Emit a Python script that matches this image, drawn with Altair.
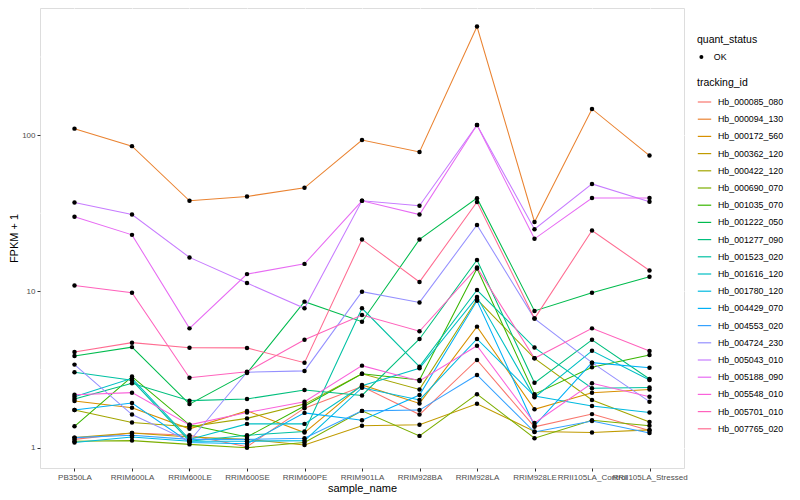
import altair as alt
import pandas as pd

samples = ["PB350LA", "RRIM600LA", "RRIM600LE", "RRIM600SE", "RRIM600PE", "RRIM901LA",
           "RRIM928BA", "RRIM928LA", "RRIM928LE", "RRII105LA_Control", "RRII105LA_Stressed"]

tracking_ids = ["Hb_000085_080", "Hb_000094_130", "Hb_000172_560", "Hb_000362_120", "Hb_000422_120",
                "Hb_000690_070", "Hb_001035_070", "Hb_001222_050", "Hb_001277_090", "Hb_001523_020",
                "Hb_001616_120", "Hb_001780_120", "Hb_004429_070", "Hb_004553_020", "Hb_004724_230",
                "Hb_005043_010", "Hb_005188_090", "Hb_005548_010", "Hb_005701_010", "Hb_007765_020"]

palette = ["#F8766D", "#EA8331", "#D89000", "#C09B00", "#A3A500", "#7CAE00", "#39B600", "#00BB4E",
           "#00BF7D", "#00C1A3", "#00BFC4", "#00BAE0", "#00B0F6", "#35A2FF", "#9590FF", "#C77CFF",
           "#E76BF3", "#FA62DB", "#FF62BC", "#FF6C91"]

# FPKM + 1 per sample
hb_000085_080 = [1.13, 1.24, 1.20, 1.015, 1.79, 2.46, 1.63, 3.64, 1.36, 1.64, 1.29]
hb_000094_130 = [110, 85, 38, 40.5, 46, 93, 78, 495, 27.8, 147, 74]
hb_000172_560 = [1.99, 1.80, 1.32, 1.72, 1.25, 2.52, 1.92, 5.95, 1.76, 2.25, 2.36]
hb_000362_120 = [1.16, 1.24, 1.17, 1.13, 1.04, 1.38, 1.40, 1.91, 1.27, 1.25, 1.30]
hb_000422_120 = [1.74, 1.45, 1.36, 1.54, 1.90, 2.97, 2.36, 8.9, 3.73, 2.02, 1.46]
hb_000690_070 = [1.10, 1.11, 1.05, 1.00, 1.08, 1.72, 1.19, 2.20, 1.15, 1.50, 1.38]
hb_001035_070 = [1.37, 2.85, 1.40, 1.17, 1.85, 2.97, 2.71, 14.0, 2.20, 3.27, 3.92]
hb_001222_050 = [3.86, 4.40, 1.90, 3.00, 8.6, 6.4, 21.5, 39.5, 7.5, 9.8, 12.4]
hb_001277_090 = [2.05, 2.58, 2.00, 2.05, 2.34, 2.16, 4.96, 15.9, 2.60, 4.90, 2.75]
hb_001523_020 = [3.04, 2.70, 1.10, 1.20, 1.27, 7.8, 3.30, 10.2, 4.37, 2.40, 2.43]
hb_001616_120 = [2.12, 2.78, 1.13, 1.42, 1.42, 2.49, 3.22, 9.2, 2.10, 4.17, 2.71]
hb_001780_120 = [1.08, 1.17, 1.10, 1.10, 1.11, 2.42, 2.02, 4.96, 2.14, 1.85, 1.68]
hb_004429_070 = [1.74, 1.93, 1.08, 1.06, 1.67, 1.50, 2.17, 8.7, 1.38, 3.50, 3.25]
hb_004553_020 = [1.16, 1.20, 1.13, 1.13, 1.15, 1.72, 1.74, 2.92, 1.26, 1.48, 1.24]
hb_004724_230 = [3.40, 1.63, 1.10, 3.04, 3.10, 9.96, 8.5, 26.6, 6.7, 3.50, 1.97]
hb_005043_010 = [37, 31, 16.5, 11.3, 7.8, 38, 35.3, 116, 25, 48.7, 37.5]
hb_005188_090 = [30, 23, 5.8, 12.9, 15, 38, 31, 116, 21.7, 39.6, 39.6]
hb_005548_010 = [2.18, 2.25, 1.40, 1.68, 1.97, 3.35, 2.67, 4.49, 1.44, 2.58, 2.12]
hb_005701_010 = [10.9, 9.8, 2.8, 3.06, 4.9, 7.06, 5.56, 14.2, 3.73, 5.8, 4.15]
hb_007765_020 = [4.1, 4.7, 4.36, 4.35, 3.5, 21.5, 11.5, 37.3, 6.7, 24.5, 13.6]

series = [hb_000085_080, hb_000094_130, hb_000172_560, hb_000362_120, hb_000422_120,
          hb_000690_070, hb_001035_070, hb_001222_050, hb_001277_090, hb_001523_020,
          hb_001616_120, hb_001780_120, hb_004429_070, hb_004553_020, hb_004724_230,
          hb_005043_010, hb_005188_090, hb_005548_010, hb_005701_010, hb_007765_020]

y_major = [1, 10, 100]
y_minor = [10 ** 0.5, 10 ** 1.5, 10 ** 2.5]

rows = []
for tid, vals in zip(tracking_ids, series):
    for s, v in zip(samples, vals):
        rows.append({"tracking_id": tid, "sample_name": s, "fpkm1": v, "quant_status": "OK"})
df = pd.DataFrame(rows)

FONT = "Liberation Sans"

xenc = alt.X("sample_name:N", sort=samples, title="sample_name",
             scale=alt.Scale(type="point", padding=0.6),
             axis=alt.Axis(labelAngle=0, labelFontSize=8, labelColor="#4D4D4D", tickColor="#333333",
                           tickSize=3, domain=False, grid=True, gridColor="white", gridWidth=1.1,
                           titleFontSize=11, titleFontWeight="normal", titleColor="black",
                           labelPadding=2, titlePadding=1, labelOverlap=False, labelFont=FONT,
                           titleFont=FONT))
yscale = alt.Scale(type="log", domain=[0.7414, 650.5], nice=False)
yenc = alt.Y("fpkm1:Q", title="FPKM + 1", scale=yscale,
             axis=alt.Axis(values=y_major, format="d", labelFontSize=8, labelColor="#4D4D4D",
                           tickColor="#333333", tickSize=3, domain=False, grid=True, gridColor="white",
                           gridWidth=1.1, titleFontSize=11, titleFontWeight="normal", titleColor="black",
                           labelPadding=2, titlePadding=2, labelFont=FONT, titleFont=FONT))

minor = alt.Chart(pd.DataFrame({"v": y_minor})).mark_rule(color="white", strokeWidth=0.55).encode(
    y=alt.Y("v:Q", scale=yscale)
)

lines = alt.Chart(df).mark_line(strokeWidth=1.05).encode(
    x=xenc, y=yenc,
    color=alt.Color("tracking_id:N", scale=alt.Scale(domain=tracking_ids, range=palette),
                    legend=alt.Legend(title="tracking_id", orient="none", legendX=657, legendY=70,
                                      symbolType="stroke", symbolSize=180, symbolStrokeWidth=1.2,
                                      labelFontSize=8.8, titleFontSize=10.5, titleFontWeight="normal",
                                      labelFont=FONT, titleFont=FONT, rowPadding=4.2, titlePadding=6,
                                      labelOffset=6, titleColor="black", labelColor="black")),
    detail="tracking_id:N",
)

points = alt.Chart(df).mark_point(filled=True, size=20, opacity=1, color="black").encode(
    x=alt.X("sample_name:N", sort=samples), y=alt.Y("fpkm1:Q", scale=yscale),
    shape=alt.Shape("quant_status:N", scale=alt.Scale(range=["circle"]),
                    legend=alt.Legend(title="quant_status", orient="none", legendX=657, legendY=27,
                                      labelFontSize=8.8, titleFontSize=10.5, titleFontWeight="normal",
                                      labelFont=FONT, titleFont=FONT, symbolSize=16,
                                      symbolFillColor="black", symbolStrokeColor="black",
                                      titlePadding=7, labelOffset=8, titleColor="black",
                                      labelColor="black")),
)

chart = alt.layer(minor, lines, points).properties(
    width=644, height=460,
    padding={"left": 32, "top": 0, "right": 108, "bottom": 32},
    autosize=alt.AutoSizeParams(type="none"),
).configure_view(fill="#EBEBEB", strokeWidth=0).configure(background="white")

chart.save("out.html", embed_options={"renderer": "svg", "actions": False})
